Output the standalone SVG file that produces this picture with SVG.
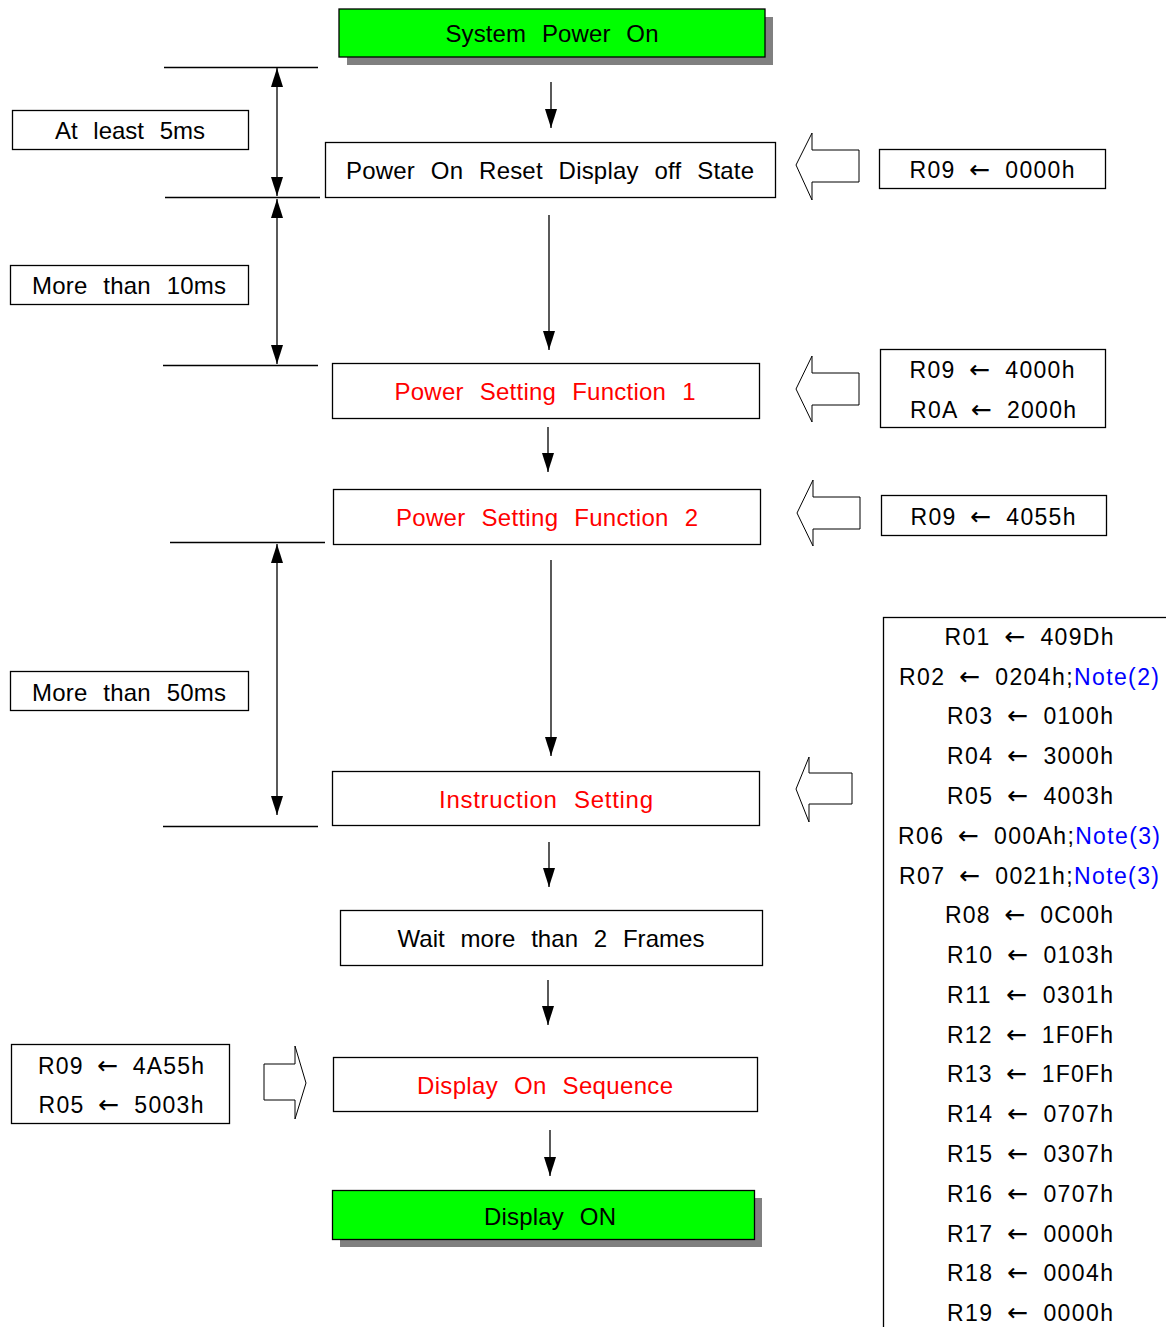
<svg xmlns="http://www.w3.org/2000/svg" width="1166" height="1327" viewBox="0 0 1166 1327">
<style>
text{font-family:"Liberation Sans",Arial,sans-serif;font-size:24px;fill:#000;text-anchor:middle;word-spacing:9px}
.red{fill:#ff0000}
.blue{fill:#0000ff}
.reg{font-size:23px;word-spacing:6px}
.ar{font-family:"DejaVu Sans",sans-serif;font-size:25px}
.box{fill:#fff;stroke:#000;stroke-width:1.3}
.green{fill:#00ff00;stroke:#000;stroke-width:1.3}
.shadow{fill:#808080}
.ln{stroke:#000;stroke-width:1.3;fill:none}
.blk{fill:#fff;stroke:#000;stroke-width:1}
</style>
<defs>
<marker id="ah" markerUnits="userSpaceOnUse" markerWidth="19" markerHeight="12" refX="19" refY="6" orient="auto-start-reverse" viewBox="0 0 19 12">
<path d="M0,0 L19,6 L0,12 z" fill="#000"/>
</marker>
</defs>

<g id="connectors">
<line class="ln" x1="551" y1="82" x2="551" y2="128" marker-end="url(#ah)"/>
<line class="ln" x1="549" y1="215" x2="549" y2="350" marker-end="url(#ah)"/>
<line class="ln" x1="548" y1="427" x2="548" y2="472" marker-end="url(#ah)"/>
<line class="ln" x1="551" y1="560" x2="551" y2="756" marker-end="url(#ah)"/>
<line class="ln" x1="549" y1="842" x2="549" y2="887" marker-end="url(#ah)"/>
<line class="ln" x1="548" y1="980" x2="548" y2="1025" marker-end="url(#ah)"/>
<line class="ln" x1="550" y1="1130" x2="550" y2="1176" marker-end="url(#ah)"/>
<line class="ln" x1="164" y1="67.5" x2="318" y2="67.5"/>
<line class="ln" x1="165" y1="197.5" x2="320" y2="197.5"/>
<line class="ln" x1="163" y1="365.5" x2="318" y2="365.5"/>
<line class="ln" x1="170" y1="542.5" x2="325" y2="542.5"/>
<line class="ln" x1="163" y1="826.5" x2="318" y2="826.5"/>
<line class="ln" x1="277" y1="68" x2="277" y2="196" marker-start="url(#ah)" marker-end="url(#ah)"/>
<line class="ln" x1="277" y1="199" x2="277" y2="364" marker-start="url(#ah)" marker-end="url(#ah)"/>
<line class="ln" x1="277" y1="544" x2="277" y2="815" marker-start="url(#ah)" marker-end="url(#ah)"/>
<path class="blk" d="M796,165 L812,133 L812,150 L859,150 L859,182 L812,182 L812,200 Z"/>
<path class="blk" d="M796,389 L812,356 L812,373 L859,373 L859,405 L812,405 L812,422 Z"/>
<path class="blk" d="M797,513 L813,480 L813,497 L860,497 L860,529 L813,529 L813,546 Z"/>
<path class="blk" d="M796,789 L809,757 L809,773 L852,773 L852,804 L809,804 L809,822 Z"/>
<path class="blk" d="M306,1083 L295,1046 L295,1064 L264,1064 L264,1100 L295,1100 L295,1119 Z"/>
</g>

<g id="n-system-power-on">
<rect class="shadow" x="347" y="17" width="426" height="48"/>
<rect class="green" x="339" y="9" width="426" height="48"/>
<text x="552" y="42" textLength="213">System Power On</text>
</g>

<g id="n-power-on-reset">
<rect class="box" x="325.5" y="142.5" width="450" height="55"/>
<text x="550" y="179" textLength="408">Power On Reset Display off State</text>
</g>

<g id="n-psf1">
<rect class="box" x="332.5" y="363.5" width="427" height="55"/>
<text class="red" x="545" y="400" textLength="301">Power Setting Function 1</text>
</g>

<g id="n-psf2">
<rect class="box" x="333.5" y="489.5" width="427" height="55"/>
<text class="red" x="547" y="526" textLength="302">Power Setting Function 2</text>
</g>

<g id="n-instruction">
<rect class="box" x="332.5" y="771.5" width="427" height="54"/>
<text class="red" x="546" y="808" textLength="214">Instruction Setting</text>
</g>

<g id="n-wait">
<rect class="box" x="340.5" y="910.5" width="422" height="55"/>
<text x="551" y="947" textLength="307">Wait more than 2 Frames</text>
</g>

<g id="n-display-on-seq">
<rect class="box" x="333.5" y="1057.5" width="424" height="54"/>
<text class="red" x="545" y="1094" textLength="256">Display On Sequence</text>
</g>

<g id="n-display-on">
<rect class="shadow" x="340" y="1198" width="422" height="49"/>
<rect class="green" x="332.5" y="1190.5" width="422" height="49"/>
<text x="550" y="1225" textLength="132">Display ON</text>
</g>

<g id="n-at-least-5ms">
<rect class="box" x="12.5" y="110.5" width="236" height="39"/>
<text x="130" y="139" textLength="150">At least 5ms</text>
</g>
<g id="n-more-10ms">
<rect class="box" x="10.5" y="265.5" width="238" height="39"/>
<text x="129" y="294" textLength="194">More than 10ms</text>
</g>
<g id="n-more-50ms">
<rect class="box" x="10.5" y="671.5" width="238" height="39"/>
<text x="129" y="701" textLength="194">More than 50ms</text>
</g>

<g id="n-reg-r09-0000">
<rect class="box" x="879.5" y="149.5" width="226" height="39"/>
<text class="reg" x="992" y="178" textLength="165">R09 <tspan class="ar">←</tspan> 0000h</text>
</g>
<g id="n-reg-psf1">
<rect class="box" x="880.5" y="349.5" width="225" height="78"/>
<text class="reg" x="992" y="378" textLength="165">R09 <tspan class="ar">←</tspan> 4000h</text>
<text class="reg" x="993" y="418" textLength="166">R0A <tspan class="ar">←</tspan> 2000h</text>
</g>
<g id="n-reg-psf2">
<rect class="box" x="881.5" y="495.5" width="225" height="40"/>
<text class="reg" x="993" y="525" textLength="165">R09 <tspan class="ar">←</tspan> 4055h</text>
</g>
<g id="n-reg-dispseq">
<rect class="box" x="11.5" y="1044.5" width="218" height="79"/>
<text class="reg" x="121" y="1074" textLength="166">R09 <tspan class="ar">←</tspan> 4A55h</text>
<text class="reg" x="121" y="1113" textLength="165">R05 <tspan class="ar">←</tspan> 5003h</text>
</g>

<g id="n-reg-list">
<rect class="box" x="883.5" y="617.5" width="320" height="760"/>
<text class="reg" x="1029" y="645" textLength="169">R01 <tspan class="ar">←</tspan> 409Dh</text>
<text class="reg" x="1029" y="685" textLength="260">R02 <tspan class="ar">←</tspan> 0204h;<tspan class="blue">Note(2)</tspan></text>
<text class="reg" x="1030" y="724" textLength="166">R03 <tspan class="ar">←</tspan> 0100h</text>
<text class="reg" x="1030" y="764" textLength="166">R04 <tspan class="ar">←</tspan> 3000h</text>
<text class="reg" x="1030" y="804" textLength="166">R05 <tspan class="ar">←</tspan> 4003h</text>
<text class="reg" x="1029" y="844" textLength="262">R06 <tspan class="ar">←</tspan> 000Ah;<tspan class="blue">Note(3)</tspan></text>
<text class="reg" x="1029" y="884" textLength="260">R07 <tspan class="ar">←</tspan> 0021h;<tspan class="blue">Note(3)</tspan></text>
<text class="reg" x="1029" y="923" textLength="168">R08 <tspan class="ar">←</tspan> 0C00h</text>
<text class="reg" x="1030" y="963" textLength="166">R10 <tspan class="ar">←</tspan> 0103h</text>
<text class="reg" x="1030" y="1003" textLength="166">R11 <tspan class="ar">←</tspan> 0301h</text>
<text class="reg" x="1030" y="1043" textLength="166">R12 <tspan class="ar">←</tspan> 1F0Fh</text>
<text class="reg" x="1030" y="1082" textLength="166">R13 <tspan class="ar">←</tspan> 1F0Fh</text>
<text class="reg" x="1030" y="1122" textLength="166">R14 <tspan class="ar">←</tspan> 0707h</text>
<text class="reg" x="1030" y="1162" textLength="166">R15 <tspan class="ar">←</tspan> 0307h</text>
<text class="reg" x="1030" y="1202" textLength="166">R16 <tspan class="ar">←</tspan> 0707h</text>
<text class="reg" x="1030" y="1242" textLength="166">R17 <tspan class="ar">←</tspan> 0000h</text>
<text class="reg" x="1030" y="1281" textLength="166">R18 <tspan class="ar">←</tspan> 0004h</text>
<text class="reg" x="1030" y="1321" textLength="166">R19 <tspan class="ar">←</tspan> 0000h</text>
</g>
</svg>
